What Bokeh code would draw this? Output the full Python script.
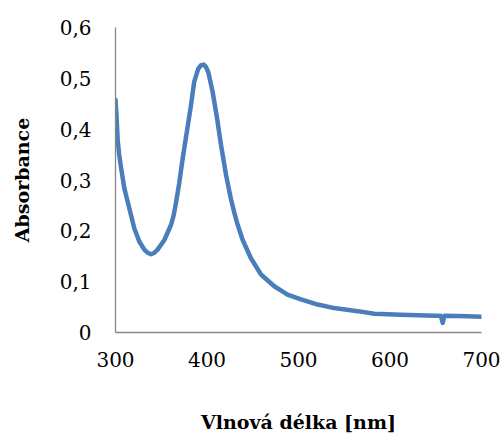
from bokeh.plotting import figure
from bokeh.models import Range1d, FixedTicker
from bokeh.embed import file_html
from bokeh.resources import INLINE

# Data
wavelength = [300, 301, 302.4, 304, 306, 309.6, 315, 320.5, 326, 331.5, 335, 338.8,
              342.5, 346, 353.4, 360.7, 363.5, 366, 369.5, 373.4, 378, 382.5, 386,
              390.5, 393.5, 396.4, 399, 401.4, 406.2, 411, 415.3, 420.8, 426.2, 429.8,
              433.5, 439, 448, 459, 473.5, 488, 502.7, 521, 539, 564.7, 582.8, 612,
              648.4, 655.5, 657.6, 659.5, 685, 700]
absorbance = [0.458, 0.43, 0.378, 0.35, 0.325, 0.284, 0.245, 0.205, 0.179, 0.163, 0.157,
              0.154, 0.157, 0.163, 0.182, 0.212, 0.23, 0.254, 0.292, 0.342, 0.395,
              0.447, 0.493, 0.519, 0.526, 0.527, 0.522, 0.512, 0.473, 0.421, 0.369,
              0.310, 0.262, 0.236, 0.212, 0.182, 0.146, 0.114, 0.091, 0.0745, 0.065,
              0.055, 0.048, 0.042, 0.037, 0.035, 0.033, 0.033, 0.019, 0.033, 0.032,
              0.031]

x_ticks = [300, 400, 500, 600, 700]
y_ticks = [0, 0.1, 0.2, 0.3, 0.4, 0.5, 0.6]
y_tick_labels = ["0", "0,1", "0,2", "0,3", "0,4", "0,5", "0,6"]
x_label = "Vlnová délka [nm]"
y_label = "Absorbance"

p = figure(width=504, height=435, output_backend="svg", toolbar_location=None,
           x_range=Range1d(300, 700), y_range=Range1d(0, 0.6),
           min_border_left=115, min_border_right=23, min_border_top=27,
           min_border_bottom=102)
p.outline_line_color = None
p.xgrid.visible = False
p.ygrid.visible = False
p.background_fill_color = "white"
p.border_fill_color = "white"

p.line(wavelength, absorbance, line_color="#4A7EBB", line_width=4.5,
       line_join="round", line_cap="round")

axis_color = "#868686"
for ax in (p.xaxis[0], p.yaxis[0]):
    ax.axis_line_color = axis_color
    ax.axis_line_width = 1.3
    ax.major_tick_line_color = None
    ax.minor_tick_line_color = None
    ax.major_tick_in = 0
    ax.major_tick_out = 0
    ax.major_label_text_font = "DejaVu Serif"
    ax.major_label_text_font_size = "20px"
    ax.major_label_text_color = "black"
    ax.axis_label_text_font = "DejaVu Serif"
    ax.axis_label_text_font_style = "bold"
    ax.axis_label_text_font_size = "19px"
    ax.axis_label_text_color = "black"

p.xaxis.ticker = FixedTicker(ticks=x_ticks)
p.yaxis.ticker = FixedTicker(ticks=y_ticks)
p.yaxis.major_label_overrides = {t: l for t, l in zip(y_ticks, y_tick_labels)}
p.xaxis.major_label_standoff = 19
p.yaxis.major_label_standoff = 24
p.xaxis.axis_label = x_label
p.yaxis.axis_label = y_label
p.xaxis.axis_label_standoff = 41
p.yaxis.axis_label_standoff = 24

open("out.html", "w").write(file_html(p, INLINE))
